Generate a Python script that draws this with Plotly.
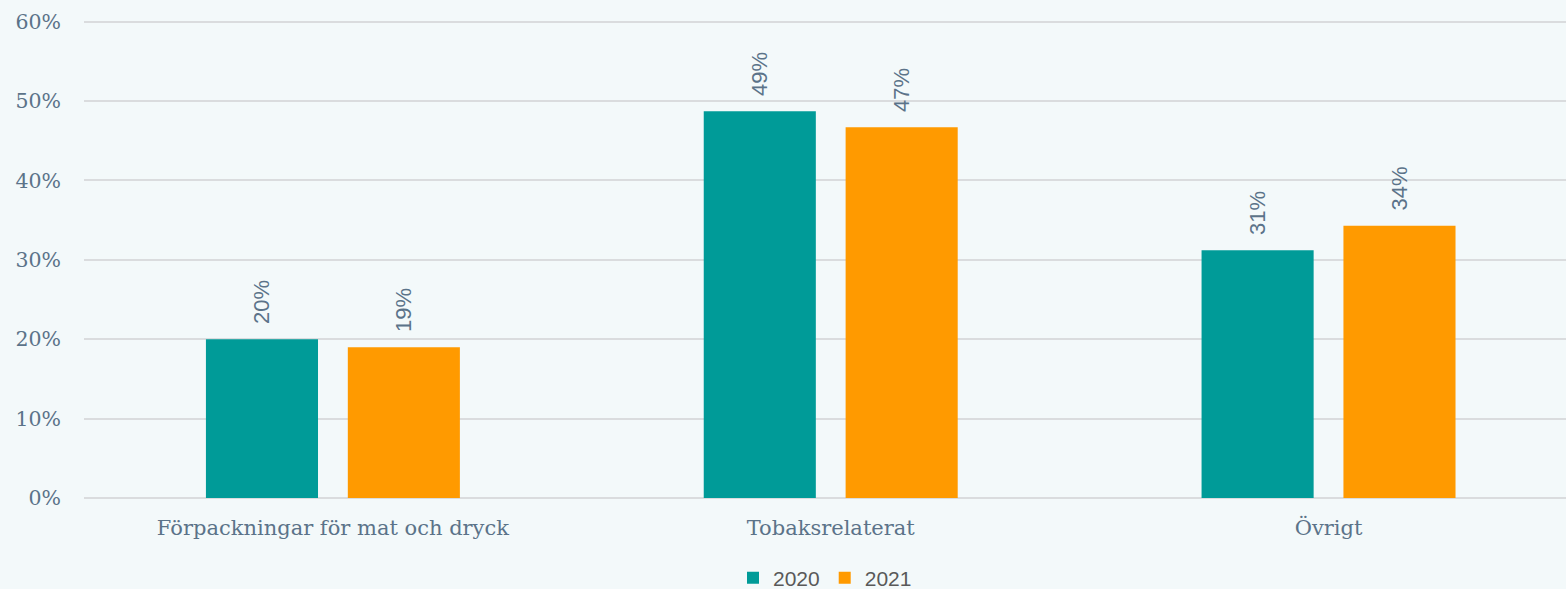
import plotly.graph_objects as go

categories = ["Förpackningar för mat och dryck", "Tobaksrelaterat", "Övrigt"]
values_2020 = [20.0, 48.7, 31.2]
values_2021 = [19.0, 46.7, 34.3]
series_names = ["2020", "2021"]
tick_vals = [0, 10, 20, 30, 40, 50, 60]
tick_text = ["0%", "10%", "20%", "30%", "40%", "50%", "60%"]

serif = "'DejaVu Serif', 'Liberation Serif', serif"
txt_color = "#5b7389"
bg = "#f3f9fa"

fig = go.Figure()
for name, vals, col in [(series_names[0], values_2020, "#009b98"),
                        (series_names[1], values_2021, "#ff9a00")]:
    fig.add_trace(go.Bar(
        x=categories, y=vals, name=name, marker_color=col,
        marker_line_width=0,
        texttemplate="\u00a0\u00a0%{y:.0f}%", textposition="outside", textangle=-90,
        textfont=dict(family="'Liberation Sans', Arial, sans-serif", size=22, color=txt_color),
        cliponaxis=False,
    ))

fig.update_layout(
    width=1566, height=589, autosize=False,
    margin=dict(l=84, r=0, t=20, b=91, autoexpand=False),
    paper_bgcolor=bg, plot_bgcolor=bg,
    barmode="group", bargap=0.43, bargroupgap=0.21,
    showlegend=True,
    legend=dict(orientation="h", x=0.5, xanchor="center", yref="container",
                y=0.0187, yanchor="middle",
                font=dict(family="'Liberation Sans', Arial, sans-serif", size=21, color="#595959"),
                itemwidth=30, bgcolor="rgba(0,0,0,0)"),
    xaxis=dict(range=[-0.5, 2.477], tickfont=dict(family=serif, size=21, color=txt_color),
               showgrid=False, showline=False, ticks="", ticklabelstandoff=15),
    yaxis=dict(range=[0, 60.2], tickmode="array", tickvals=tick_vals, ticktext=tick_text,
               tickfont=dict(family=serif, size=20.5, color=txt_color),
               showgrid=True, gridcolor="#dadcde", gridwidth=2,
               zeroline=True, zerolinecolor="#dadcde", zerolinewidth=2,
               showline=False, ticks="", ticklabelstandoff=22),
    font=dict(family=serif, color=txt_color),
)
fig.write_html("out.html", config={"displayModeBar": False},
               post_script="document.body.style.margin='0';document.body.style.background='#f3f9fa';")
